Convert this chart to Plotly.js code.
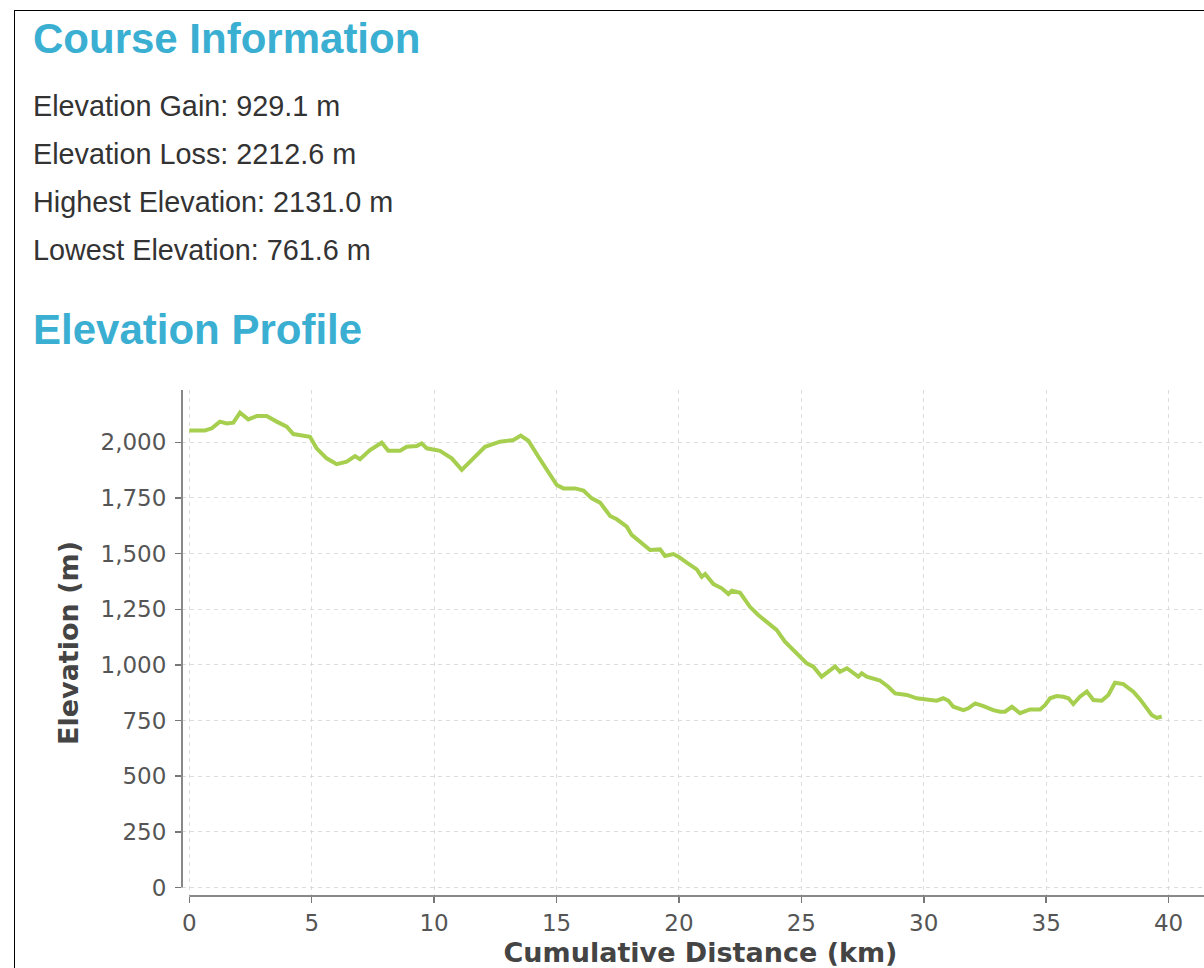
<!DOCTYPE html>
<html>
<head>
<meta charset="utf-8">
<script src="https://cdn.plot.ly/plotly-3.0.1.min.js"></script>
<style>
  html, body { margin: 0; padding: 0; background: #fff; overflow: hidden; width: 1204px; height: 968px; }
  .frame { position: absolute; left: 14px; top: 10px; width: 2000px; height: 2000px; border-left: 1px solid #000; border-top: 1px solid #000; }
  .h { position: absolute; left: 33px; margin: 0; font-family: "Liberation Sans", Arial, sans-serif; font-weight: bold; font-size: 42px; line-height: 42px; color: #3aafd2; white-space: nowrap; }
  .t { position: absolute; left: 33px; margin: 0; font-family: "Liberation Sans", Arial, sans-serif; font-size: 28.8px; line-height: 28.8px; color: #333; white-space: nowrap; }
  #chart { position: absolute; left: 0; top: 350px; width: 1260px; height: 618px; }
</style>
</head>
<body>
<div class="frame"></div>
<div class="h" style="top:18px">Course Information</div>
<div class="t" style="top:92px">Elevation Gain: 929.1 m</div>
<div class="t" style="top:140px">Elevation Loss: 2212.6 m</div>
<div class="t" style="top:188px">Highest Elevation: 2131.0 m</div>
<div class="t" style="top:236px">Lowest Elevation: 761.6 m</div>
<div class="h" style="top:309px">Elevation Profile</div>
<div id="chart"></div>
<script>
// Cumulative distance (km)
const distanceKm = [
  0.00, 0.64, 0.92, 1.25, 1.53, 1.80, 2.07, 2.41, 2.75, 3.16,
  3.57, 3.98, 4.25, 4.73, 4.93, 5.20, 5.61, 6.02, 6.43, 6.77,
  6.97, 7.38, 7.86, 8.13, 8.61, 8.88, 9.29, 9.49, 9.70, 10.24,
  10.72, 11.13, 11.60, 12.08, 12.69, 13.24, 13.54, 13.85, 14.26, 14.67,
  15.01, 15.28, 15.76, 16.10, 16.44, 16.78, 17.19, 17.46, 17.87, 18.07,
  18.41, 18.82, 19.23, 19.43, 19.77, 19.98, 20.32, 20.73, 20.93, 21.07,
  21.41, 21.75, 22.02, 22.16, 22.50, 22.90, 23.24, 23.65, 23.99, 24.33,
  24.67, 24.95, 25.22, 25.49, 25.83, 26.38, 26.58, 26.86, 27.33, 27.47,
  27.67, 28.21, 28.55, 28.83, 29.31, 29.71, 30.33, 30.53, 30.80, 31.01,
  31.21, 31.62, 31.82, 32.10, 32.44, 32.84, 33.12, 33.32, 33.60, 33.93,
  34.34, 34.75, 34.96, 35.16, 35.43, 35.70, 35.91, 36.11, 36.38, 36.66,
  36.93, 37.27, 37.54, 37.81, 38.15, 38.43, 38.56, 38.84, 39.11, 39.31,
  39.52, 39.72
];
// Elevation (m)
const elevationM = [
  2053, 2053, 2063, 2093, 2085, 2088, 2133, 2103, 2118, 2118,
  2093, 2070, 2037, 2028, 2025, 1973, 1928, 1902, 1913, 1938,
  1924, 1965, 1998, 1962, 1962, 1980, 1983, 1995, 1973, 1962,
  1928, 1876, 1928, 1980, 2003, 2010, 2030, 2007, 1935, 1868,
  1808, 1793, 1793, 1783, 1748, 1729, 1669, 1654, 1621, 1584,
  1553, 1516, 1519, 1489, 1498, 1486, 1459, 1429, 1396, 1408,
  1363, 1344, 1318, 1333, 1324, 1261, 1224, 1190, 1157, 1104,
  1067, 1034, 1007, 992, 947, 993, 969, 985, 947, 962,
  947, 930, 902, 872, 865, 850, 845, 839, 850, 839,
  812, 797, 805, 827, 815, 797, 790, 790, 812, 783,
  800, 800, 820, 850, 860, 857, 850, 824, 857, 880,
  842, 839, 865, 920, 914, 887, 880, 845, 805, 775,
  762, 768
];
const xTicks = [0, 5, 10, 15, 20, 25, 30, 35, 40];
const yTicks = [0, 250, 500, 750, 1000, 1250, 1500, 1750, 2000];
const xTitle = "Cumulative Distance (km)";
const yTitle = "Elevation (m)";

const xRange = [-0.298, 42.06];
const yRange = [-38.2, 2235];

const tickFont = { family: "DejaVu Sans", size: 23, color: "#555" };
const titleFont = { family: "DejaVu Sans", size: 27, color: "#444", weight: 700 };

const trace = {
  x: distanceKm, y: elevationM, type: "scatter", mode: "lines",
  line: { color: "#a6cf4f", width: 4 }, hoverinfo: "x+y"
};

const layout = {
  width: 1260, height: 618,
  margin: { l: 182, r: 41, t: 40, b: 72 },
  paper_bgcolor: "rgba(0,0,0,0)", plot_bgcolor: "rgba(0,0,0,0)",
  showlegend: false,
  xaxis: {
    range: xRange, tickvals: xTicks, ticktext: xTicks.map(String),
    ticks: "outside", ticklen: 6, tickwidth: 1.5, tickcolor: "#777",
    showline: false, zeroline: false,
    showgrid: true, gridcolor: "#dcdcdc", gridwidth: 1, griddash: "4px,4px",
    tickfont: tickFont, automargin: false,
    title: { text: xTitle, font: titleFont, standoff: 19 }
  },
  yaxis: {
    range: yRange, tickvals: yTicks, tickformat: ",",
    ticks: "outside", ticklen: 6, tickwidth: 1.5, tickcolor: "#777",
    showline: false, zeroline: false,
    showgrid: true, gridcolor: "#dcdcdc", gridwidth: 1, griddash: "4px,4px",
    tickfont: tickFont, automargin: false, ticklabelstandoff: 4,
    title: { text: yTitle, font: titleFont, standoff: 14 }
  },
  shapes: [
    { type: "line", xref: "paper", yref: "y", x0: 0, x1: 0, y0: 0, y1: yRange[1],
      line: { color: "#888", width: 2 }, layer: "above" },
    { type: "line", xref: "x", yref: "paper", x0: 0, x1: xRange[1], y0: 0, y1: 0,
      line: { color: "#888", width: 2 }, layer: "above" }
  ]
};

Plotly.newPlot("chart", [trace], layout, { displayModeBar: false, staticPlot: true });
</script>
</body>
</html>
